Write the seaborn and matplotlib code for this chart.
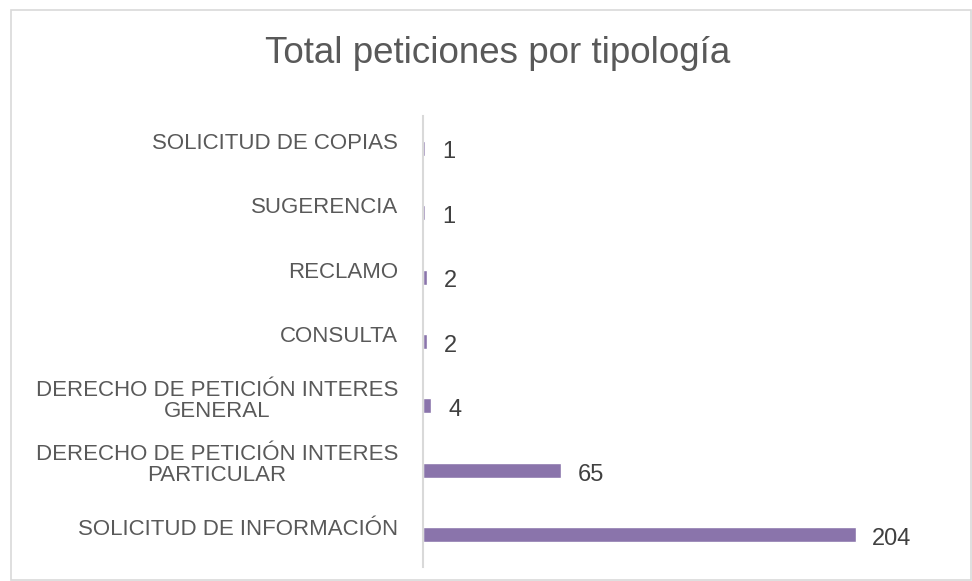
import matplotlib
matplotlib.use("Agg")
import matplotlib.pyplot as plt
import matplotlib.transforms as mtransforms
import seaborn as sns
import pandas as pd
from matplotlib.patches import Rectangle

categories = ["SOLICITUD DE COPIAS", "SUGERENCIA", "RECLAMO", "CONSULTA",
              "DERECHO DE PETICIÓN INTERES\nGENERAL",
              "DERECHO DE PETICIÓN INTERES\nPARTICULAR",
              "SOLICITUD DE INFORMACIÓN"]
values = [1, 1, 2, 2, 4, 65, 204]
title = "Total peticiones por tipología"

df = pd.DataFrame({"cat": categories, "val": values})

sns.set_theme(style="white")
plt.rcParams['font.family'] = ['Liberation Sans', 'DejaVu Sans']

fig = plt.figure(figsize=(9.72, 5.81), dpi=100)
W, H = 972, 581
ax = fig.add_axes([423 / W, 1 - 567 / H, (932 - 423) / W, (567 - 116) / H])

sns.barplot(data=df, y="cat", x="val", orient="h", color="#8A74AB",
            saturation=1, width=0.235, ax=ax)
ax.set_xlim(0, 240)
ax.set_xlabel("")
ax.set_ylabel("")
ax.set_xticks([])
ax.tick_params(axis="y", length=0, labelleft=False)
for s in ["top", "right", "bottom"]:
    ax.spines[s].set_visible(False)
ax.spines["left"].set_color("#D9D9D9")
ax.spines["left"].set_linewidth(1.5)

# category labels (right-aligned, slightly above bar centers like the reference)
lbl_tr = mtransforms.blended_transform_factory(ax.transAxes, ax.transData) + \
    mtransforms.ScaledTranslation(-25 / 100, 5 / 100, fig.dpi_scale_trans)
for i, cat in enumerate(categories):
    ax.text(0, i, cat, transform=lbl_tr, ha="right", va="center",
            multialignment="center", linespacing=1.0, fontsize=16,
            color="#595959")

for c in ax.containers:
    labs = ax.bar_label(c, labels=[str(v) for v in values], padding=12,
                        fontsize=17, color="#404040")
    for t in labs:
        t.xyann = (12, -3)

fig.text(498 / W, 1 - 63 / H, title, ha="center", va="baseline",
         fontsize=26.5, color="#595959")

fig.patches.append(Rectangle((11 / W, 0.002), (W - 12) / W, 1 - 10 / H - 0.002,
                             transform=fig.transFigure, fill=False,
                             edgecolor="#D9D9D9", linewidth=1.2))

fig.savefig("out.png", dpi=100)
